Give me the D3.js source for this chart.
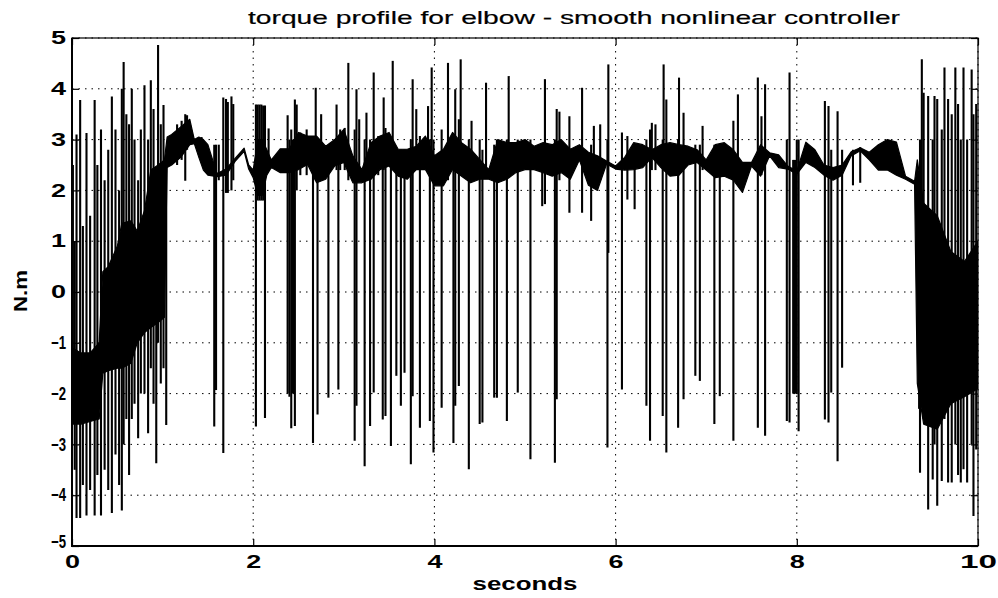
<!DOCTYPE html>
<html>
<head>
<meta charset="utf-8">
<script src="https://cdn.jsdelivr.net/npm/d3@7/dist/d3.min.js"></script>
<style>
  body { margin: 0; background: #fff; }
  text { font-family: "Liberation Sans", Arial, Helvetica, sans-serif; fill: #000; }
</style>
</head>
<body>
<div class="chart"></div>
<script>
// tick values
const xTicks = [0, 2, 4, 6, 8, 10];
const yTicks = [-5, -4, -3, -2, -1, 0, 1, 2, 3, 4, 5];

// dense chattering band: [seconds, low, high]
const band = [
  [0.00, -2.6, -1.1], [0.10, -2.6, -1.2], [0.20, -2.55, -1.2], [0.30, -2.5, -1.0],
  [0.34, -1.6, 0.4], [0.40, -1.55, 0.5], [0.50, -1.5, 0.9], [0.55, -1.5, 1.35],
  [0.65, -1.4, 1.4], [0.72, -1.0, 1.2], [0.80, -0.8, 1.6], [0.87, -0.7, 2.4],
  [0.95, -0.6, 2.5], [1.02, -0.5, 2.6],
  [1.05, 2.45, 3.05], [1.10, 2.5, 3.1], [1.20, 2.65, 3.25], [1.30, 2.9, 3.4],
  [1.35, 2.92, 3.0], [1.40, 2.65, 3.05], [1.45, 2.4, 3.0], [1.50, 2.3, 2.9],
  [1.60, 2.27, 2.33], [1.70, 2.3, 2.42], [1.80, 2.57, 2.63], [1.90, 2.77, 2.83],
  [1.95, 2.42, 2.5], [2.00, 2.25, 2.4], [2.05, 1.9, 3.0], [2.10, 1.9, 3.0],
  [2.15, 2.3, 2.8], [2.20, 2.45, 2.6], [2.30, 2.35, 2.82], [2.40, 2.35, 2.82],
  [2.50, 2.41, 3.14], [2.60, 2.51, 3.07], [2.70, 2.15, 3.07], [2.80, 2.22, 2.87],
  [2.90, 2.48, 3.0], [3.00, 2.55, 3.2], [3.10, 2.15, 2.68], [3.20, 2.15, 2.41],
  [3.30, 2.22, 2.94], [3.40, 2.41, 3.07], [3.50, 2.48, 3.14], [3.60, 2.28, 2.81],
  [3.70, 2.22, 2.81], [3.80, 2.41, 2.87], [3.90, 2.41, 3.07], [4.00, 2.09, 2.68],
  [4.10, 2.09, 2.81], [4.20, 2.41, 3.14], [4.30, 2.28, 2.94], [4.40, 2.15, 2.81],
  [4.50, 2.22, 2.61], [4.60, 2.22, 2.41], [4.70, 2.15, 3.0], [4.80, 2.22, 2.94],
  [4.90, 2.35, 2.94], [5.00, 2.41, 3.0], [5.10, 2.41, 2.87], [5.20, 2.35, 2.94],
  [5.30, 2.28, 2.9], [5.40, 2.35, 3.0], [5.50, 2.22, 2.81], [5.60, 2.6, 2.9],
  [5.70, 2.1, 2.75], [5.80, 2.0, 2.68], [5.90, 2.52, 2.58], [6.00, 2.42, 2.48],
  [6.10, 2.4, 2.65], [6.20, 2.41, 2.94], [6.30, 2.45, 2.9], [6.40, 2.65, 2.8],
  [6.50, 2.45, 2.9], [6.60, 2.28, 2.94], [6.70, 2.3, 2.9], [6.80, 2.5, 2.87],
  [6.90, 2.55, 2.8], [7.00, 2.4, 2.6], [7.10, 2.25, 2.9], [7.20, 2.28, 2.94],
  [7.30, 2.2, 2.8], [7.40, 1.96, 2.55], [7.50, 2.48, 2.55], [7.60, 2.28, 2.9],
  [7.70, 2.68, 2.74], [7.80, 2.45, 2.7], [7.90, 2.42, 2.48], [8.00, 2.32, 2.38],
  [8.10, 2.55, 2.95], [8.20, 2.45, 2.8], [8.30, 2.3, 2.5], [8.40, 2.2, 2.45],
  [8.50, 2.3, 2.5], [8.60, 2.68, 2.76], [8.70, 2.78, 2.84], [8.80, 2.6, 2.75],
  [8.90, 2.4, 2.9], [9.00, 2.4, 3.0], [9.10, 2.3, 2.95], [9.20, 2.22, 2.28],
  [9.30, 2.12, 2.18],
  [9.33, -1.8, 2.6], [9.40, -2.6, 1.75], [9.55, -2.7, 1.5], [9.70, -2.2, 0.8],
  [9.85, -2.06, 0.6], [10.0, -1.9, 1.0]
];

// single excursions: [seconds, high, low]
const spikes = [
  [0.01, 2.5, -2.5], [0.03, 1.0, -3.5], [0.05, 3.1, -4.45], [0.09, 3.78, -4.45],
  [0.12, 1.3, -3.8], [0.16, 3.13, -4.4], [0.20, 1.5, -3.9], [0.25, 3.78, -4.4],
  [0.28, 2.5, -3.6], [0.32, 3.2, -4.4], [0.36, 2.2, -3.5], [0.40, 2.8, -3.9],
  [0.44, 3.85, -4.35], [0.48, 3.2, -3.2], [0.52, 2.0, -3.8], [0.55, 4.0, -4.3],
  [0.57, 4.53, -3.0], [0.60, 3.5, -2.5], [0.63, 3.3, -3.6], [0.66, 4.0, -2.5],
  [0.69, 3.0, -2.2], [0.73, 2.2, -2.88], [0.76, 3.2, -2.0], [0.80, 4.07, -2.0],
  [0.84, 3.0, -2.78], [0.87, 4.17, -1.5], [0.90, 3.6, -2.2], [0.93, 2.4, -3.37],
  [0.95, 4.86, -1.0], [0.98, 3.3, -1.8], [1.01, 3.68, -1.5], [1.04, 2.6, -2.62],

  [1.16, 3.3, 2.5], [1.21, 3.37, 2.6], [1.25, 3.5, 2.19], [1.27, 3.48, 2.8],
  [1.43, 3.05, 2.55],
  [1.57, 2.9, -2.65], [1.59, 2.9, -1.93], [1.62, 2.9, 2.2],
  [1.67, 3.83, -3.17], [1.70, 3.8, 1.95], [1.72, 3.74, 1.95], [1.76, 3.85, 2.0], [1.78, 3.7, 2.2],
  [2.03, 3.69, -2.65], [2.05, 3.69, 1.8], [2.07, 3.69, 1.8], [2.09, 3.69, 1.8],
  [2.11, 3.67, 1.8], [2.13, 3.67, -2.48], [2.17, 3.22, 2.4],
  [2.38, 3.48, -2.0], [2.40, 3.0, -2.06], [2.42, 3.2, -2.68], [2.44, 3.0, -2.0],
  [2.46, 3.79, -2.64], [2.48, 3.69, 2.0],
  [2.52, 3.14, 2.3], [2.59, 3.2, 2.3], [2.66, 3.0, -2.97], [2.69, 4.02, 2.2],
  [2.71, 3.0, -2.41], [2.75, 3.5, 2.2], [2.83, 2.84, -2.08], [2.92, 3.69, 2.4],
  [2.94, 3.0, -1.92], [2.96, 3.2, 2.4], [3.01, 3.23, 2.4], [3.05, 4.51, 2.2],
  [3.12, 3.2, -2.93], [3.14, 3.99, -2.24], [3.17, 3.4, 2.2], [3.23, 3.0, -3.43],
  [3.25, 3.53, 2.2], [3.29, 3.0, -2.64], [3.33, 4.32, -1.98], [3.38, 3.07, 2.3],
  [3.43, 3.0, -2.51], [3.44, 3.83, 2.4], [3.46, 3.23, -2.44], [3.52, 3.0, -3.03],
  [3.54, 4.55, 2.4], [3.58, 2.8, -1.65], [3.63, 2.8, -2.24], [3.67, 2.8, -1.59],
  [3.74, 3.0, -3.39], [3.76, 4.19, -2.05], [3.80, 3.6, 2.4], [3.84, 3.07, -2.67],
  [3.93, 3.66, 2.4], [3.95, 3.0, -2.54], [3.97, 4.42, 2.4], [3.99, 3.0, -3.16],
  [4.08, 3.2, -2.28], [4.15, 4.51, 2.2], [4.21, 3.0, -2.97], [4.23, 3.99, -2.24],
  [4.27, 3.4, -1.85], [4.29, 4.58, 2.4], [4.38, 3.0, -3.49], [4.41, 3.37, 2.3],
  [4.50, 3.0, -2.6], [4.53, 2.8, -2.57], [4.57, 4.12, 2.3], [4.66, 2.9, -2.08],
  [4.69, 3.0, -2.08], [4.80, 3.0, -2.54], [4.82, 4.25, 2.3], [4.92, 3.0, -1.98],
  [5.06, 3.0, -3.29], [5.19, 2.9, 1.69], [5.22, 4.19, 1.73], [5.33, 3.0, -3.36],
  [5.35, 3.6, -2.11], [5.38, 3.55, 2.2], [5.49, 3.46, 1.56], [5.63, 4.02, 1.56],
  [5.73, 2.9, 1.4], [5.76, 3.27, 2.2], [5.83, 3.3, 2.2], [5.91, 3.0, -3.06],
  [5.92, 4.48, 0.77], [6.07, 3.14, -1.92], [6.13, 3.07, 1.82], [6.21, 2.8, 1.63],
  [6.34, 3.0, -2.24], [6.38, 3.2, -2.93], [6.40, 3.33, 2.4], [6.44, 3.3, 2.4],
  [6.52, 3.0, -2.44], [6.53, 4.48, 2.4], [6.56, 3.79, -3.16], [6.69, 3.0, -2.67],
  [6.70, 4.22, 2.3], [6.75, 3.53, -2.11], [6.88, 2.9, -1.65], [6.93, 2.9, -1.75],
  [6.96, 3.27, 2.4], [7.09, 2.9, -2.6], [7.15, 2.9, -2.05], [7.30, 3.37, -2.93],
  [7.35, 3.89, 2.2],
  [7.57, 4.22, -2.67], [7.61, 3.46, 2.3], [7.65, 4.09, -2.83], [7.89, 3.0, -2.54],
  [7.92, 4.32, -2.57], [7.96, 2.6, -2.0], [7.97, 2.6, -2.0], [7.985, 2.6, -2.0],
  [8.00, 3.0, -2.01], [8.02, 3.0, -2.74], [8.31, 3.76, -2.51], [8.35, 3.66, -2.57],
  [8.38, 2.8, -1.98], [8.45, 3.56, -3.33], [8.50, 2.8, -1.49], [8.62, 2.8, 2.1],
  [8.70, 2.85, 2.15],
  [9.35, 2.2, -2.3], [9.36, 3.0, -3.56], [9.38, 4.58, -1.5], [9.40, 3.92, -2.5],
  [9.45, 3.86, -4.28], [9.50, 3.0, -3.69], [9.52, 3.86, -3.0], [9.55, 3.8, -4.21],
  [9.60, 3.2, -3.72], [9.63, 4.42, -2.5], [9.67, 3.8, -3.75], [9.71, 3.5, -3.75],
  [9.75, 4.42, -3.0], [9.78, 3.7, -3.6], [9.81, 3.0, -3.75], [9.84, 4.42, -3.49],
  [9.88, 3.0, -3.75], [9.93, 4.38, -3.0], [9.95, 3.5, -4.41], [9.98, 3.7, -3.1]
];

const width = 998, height = 598;
const margin = {top: 38, right: 20, bottom: 52, left: 72};
const plotW = width - margin.left - margin.right;
const plotH = height - margin.top - margin.bottom;

const svg = d3.select('.chart').append('svg')
    .attr('width', width)
    .attr('height', height);

const xScale = d3.scaleLinear().domain([0, 10]).range([margin.left, margin.left + plotW]);
const yScale = d3.scaleLinear().domain([-5, 5]).range([margin.top + plotH, margin.top]);

svg.append('defs').append('clipPath').attr('id', 'plot')
  .append('rect')
    .attr('x', margin.left).attr('y', margin.top)
    .attr('width', plotW).attr('height', plotH);

// dotted grid
const grid = svg.append('g').attr('stroke', '#000').attr('stroke-width', 1)
    .attr('stroke-dasharray', '1.5,5');
grid.selectAll('.gx').data(xTicks).join('line')
    .attr('x1', d => xScale(d)).attr('x2', d => xScale(d))
    .attr('y1', margin.top).attr('y2', margin.top + plotH);
grid.selectAll('.gy').data(yTicks).join('line')
    .attr('y1', d => yScale(d)).attr('y2', d => yScale(d))
    .attr('x1', margin.left).attr('x2', margin.left + plotW);

// signal
const plot = svg.append('g').attr('clip-path', 'url(#plot)');

const area = d3.area()
    .x(d => xScale(d[0]))
    .y0(d => yScale(d[1]))
    .y1(d => yScale(d[2]));

plot.append('path')
    .datum(band)
    .attr('d', area)
    .attr('fill', '#000')
    .attr('stroke', '#000')
    .attr('stroke-width', 1.2)
    .attr('stroke-linejoin', 'round');

plot.selectAll('.spike').data(spikes).join('line')
    .attr('class', 'spike')
    .attr('x1', d => xScale(d[0])).attr('x2', d => xScale(d[0]))
    .attr('y1', d => yScale(d[1])).attr('y2', d => yScale(d[2]))
    .attr('stroke', '#000')
    .attr('stroke-width', 2.1);

// axes, ticks pointing inward
const labelWidth = s => s === '10' ? 37 : (s.startsWith('-') ? 24 : 15);

const xAxis = d3.axisBottom(xScale).tickValues(xTicks).tickSizeInner(-7).tickSizeOuter(0).tickPadding(9);
const yAxis = d3.axisLeft(yScale).tickValues(yTicks).tickSizeInner(-7).tickSizeOuter(0).tickPadding(6);

const gx = svg.append('g')
    .attr('transform', `translate(0,${margin.top + plotH})`)
    .call(xAxis);
const gy = svg.append('g')
    .attr('transform', `translate(${margin.left},0)`)
    .call(yAxis);

svg.append('g').attr('transform', `translate(0,${margin.top})`)
    .call(d3.axisTop(xScale).tickValues(xTicks).tickSizeInner(-7).tickSizeOuter(0).tickFormat(''));
svg.append('g').attr('transform', `translate(${margin.left + plotW},0)`)
    .call(d3.axisRight(yScale).tickValues(yTicks).tickSizeInner(-7).tickSizeOuter(0).tickFormat(''));

svg.selectAll('.domain').remove();
svg.selectAll('.tick line').attr('stroke', '#000').attr('stroke-width', 1.2);

[gx, gy].forEach(g => g.selectAll('.tick text')
    .attr('font-family', '"Liberation Sans", Arial, sans-serif')
    .attr('font-size', 18)
    .attr('font-weight', 'bold')
    .attr('fill', '#000')
    .attr('lengthAdjust', 'spacingAndGlyphs')
    .attr('textLength', function() { return labelWidth(d3.select(this).text()); }));

// lift the bottom y label a little so it clears the x-axis "0"
gy.selectAll('.tick text').filter(d => d === -5).attr('dy', '0.1em');

// frame
svg.append('rect')
    .attr('x', margin.left).attr('y', margin.top)
    .attr('width', plotW).attr('height', plotH)
    .attr('fill', 'none').attr('stroke', '#000').attr('stroke-width', 1.2);
svg.append('path')
    .attr('d', `M${margin.left},${margin.top}V${margin.top + plotH}H${margin.left + plotW}`)
    .attr('fill', 'none').attr('stroke', '#000').attr('stroke-width', 2);

// labels
svg.append('text')
    .attr('x', 248).attr('y', 24)
    .attr('font-size', 19)
    .attr('stroke', '#000').attr('stroke-width', 0.2)
    .attr('textLength', 652).attr('lengthAdjust', 'spacingAndGlyphs')
    .text('torque profile for elbow - smooth nonlinear controller');

svg.append('text')
    .attr('x', 525).attr('y', 590)
    .attr('text-anchor', 'middle')
    .attr('font-size', 18).attr('font-weight', 'bold')
    .attr('textLength', 105).attr('lengthAdjust', 'spacingAndGlyphs')
    .text('seconds');

svg.append('text')
    .attr('transform', 'translate(27,291) rotate(-90)')
    .attr('text-anchor', 'middle')
    .attr('font-size', 19).attr('font-weight', 'bold')
    .attr('textLength', 42).attr('lengthAdjust', 'spacingAndGlyphs')
    .text('N.m');
</script>
</body>
</html>
